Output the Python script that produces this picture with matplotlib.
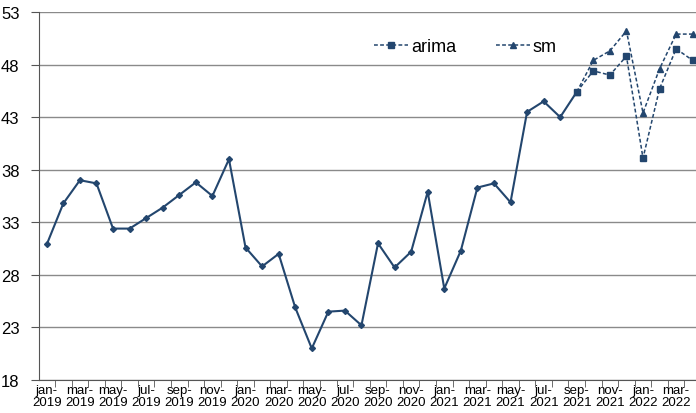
import matplotlib
matplotlib.use("Agg")
import matplotlib.pyplot as plt
from matplotlib.ticker import FixedLocator, NullFormatter

plt.rcParams['font.family'] = ['Liberation Sans', 'DejaVu Sans']

# ==== Data (monthly, jan-2019 .. apr-2022) ====
actual = [30.9, 34.8, 37.0, 36.7, 32.4, 32.4, 33.4, 34.4, 35.6, 36.8, 35.5, 39.0,
          30.6, 28.8, 30.0, 24.9, 21.0, 24.5, 24.6, 23.2, 31.0, 28.7, 30.2, 35.9,
          26.7, 30.3, 36.3, 36.7, 34.9, 43.5, 44.5, 43.0, 45.4]
arima = [45.4, 47.4, 47.0, 48.8, 39.1, 45.7, 49.5, 48.4]
sm = [45.4, 48.4, 49.3, 51.2, 43.4, 47.6, 50.9, 50.9]
tick_labels = ["jan-\n2019", "mar-\n2019", "may-\n2019", "jul-\n2019", "sep-\n2019", "nov-\n2019",
               "jan-\n2020", "mar-\n2020", "may-\n2020", "jul-\n2020", "sep-\n2020", "nov-\n2020",
               "jan-\n2021", "mar-\n2021", "may-\n2021", "jul-\n2021", "sep-\n2021", "nov-\n2021",
               "jan-\n2022", "mar-\n2022"]
y_ticks = [18, 23, 28, 33, 38, 43, 48, 53]

LINE_COLOR = "#23466e"

fig = plt.figure(figsize=(6.96, 4.14), dpi=100)
ax = fig.add_axes([39 / 696, 33 / 414, 1 - 39 / 696, (381 - 13) / 414])

x_actual = list(range(len(actual)))
start = len(actual) - 1
x_fc = list(range(start, start + len(arima)))

ax.plot(x_actual, actual, color=LINE_COLOR, lw=1.5, marker="D", ms=3, zorder=3)
ax.plot(x_fc, sm, color=LINE_COLOR, lw=1.1, ls=(0, (2.5, 1.5)), marker="^", ms=4.5,
        label="sm", zorder=3)
ax.plot(x_fc, arima, color=LINE_COLOR, lw=1.1, ls=(0, (2.5, 1.5)), marker="s", ms=4,
        label="arima", zorder=4)

ax.set_xlim(-0.47, 39.2)
ax.set_ylim(18, 53)
ax.set_yticks(y_ticks)
ax.set_yticklabels([str(v) for v in y_ticks], fontsize=12)
ax.grid(axis="y", color="#8a8a8a", lw=1)
ax.set_axisbelow(True)

ax.set_xticks(range(0, 40, 2))
ax.set_xticklabels(tick_labels, fontsize=9.5, linespacing=0.95)
ax.xaxis.set_minor_locator(FixedLocator([i + 0.5 for i in range(-1, 40)]))
ax.xaxis.set_minor_formatter(NullFormatter())
ax.tick_params(axis="x", which="major", length=0, pad=3)
ax.tick_params(axis="x", which="minor", length=5, color="#555555")
ax.tick_params(axis="y", length=6, color="#555555", pad=8)

for side in ["top", "right"]:
    ax.spines[side].set_visible(False)
ax.spines["left"].set_color("#555555")
ax.spines["bottom"].set_color("#555555")

handles, labels = ax.get_legend_handles_labels()
order = [1, 0]
fig.legend([handles[i] for i in order], [labels[i] for i in order],
           loc="center left", bbox_to_anchor=(365 / 696, 1 - 48 / 414),
           ncol=2, frameon=False, fontsize=13, handlelength=1.9,
           handletextpad=0.15, columnspacing=2.2, borderpad=0)

fig.savefig("out.png", dpi=100)
